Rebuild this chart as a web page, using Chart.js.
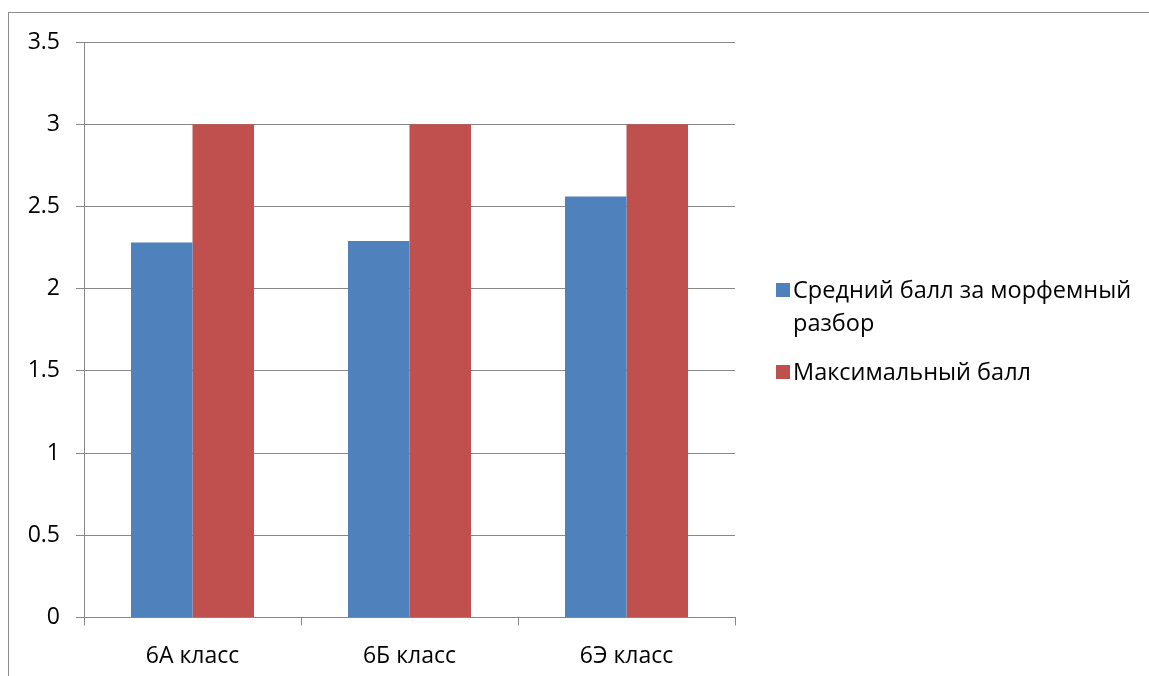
<!DOCTYPE html>
<html>
<head>
<meta charset="utf-8">
<script src="https://cdn.jsdelivr.net/npm/chart.js@4"></script>
<style>
  body { margin: 0; background: #fff; }
  #wrap { position: relative; width: 1149px; height: 676px; overflow: hidden; }
  #frame { position: absolute; left: 8px; top: 12px; width: 1200px; height: 700px;
           border-left: 1px solid #8c8c8c; border-top: 1px solid #8c8c8c; }
  canvas { position: absolute; left: 0; top: 0; }
  #legend { position: absolute; left: 776px; top: 273px; font-family: "Open Sans", sans-serif;
            font-size: 23.5px; line-height: 33px; color: #000; }
  .item { position: relative; padding-left: 17px; margin-bottom: 16px; width: 365px; }
  .box { position: absolute; left: 0; top: 10px; width: 14px; height: 14px; }
</style>
</head>
<body>
<div id="wrap">
  <div id="frame"></div>
  <canvas id="chart" width="1149" height="687"></canvas>
  <div id="legend"></div>
</div>
<script>
// data
const categories = ["6А класс", "6Б класс", "6Э класс"];
const avgScores = [2.28, 2.29, 2.56];
const maxScores = [3, 3, 3];
const seriesNames = ["Средний балл за морфемный разбор", "Максимальный балл"];
const colors = ["#4F81BD", "#C0504D"];

const font = { family: "Open Sans", size: 23 };
const gridColor = "#878787";

const ctx = document.getElementById("chart").getContext("2d");
const chart = new Chart(ctx, {
  type: "bar",
  data: {
    labels: categories,
    datasets: [
      { label: seriesNames[0], data: avgScores, backgroundColor: colors[0] },
      { label: seriesNames[1], data: maxScores, backgroundColor: colors[1] },
    ],
  },
  options: {
    responsive: false,
    animation: false,
    layout: { padding: { top: 42, right: 414, bottom: 0, left: 0 } },
    plugins: { legend: { display: false }, tooltip: { enabled: false } },
    datasets: { bar: { categoryPercentage: 0.567, barPercentage: 1, borderWidth: 0 } },
    scales: {
      x: {
        grid: { offset: true, drawOnChartArea: false, color: gridColor, tickLength: 8 },
        border: { color: gridColor, width: 1 },
        ticks: { color: "#000", font: font, padding: 17 },
      },
      y: {
        min: 0,
        max: 3.5,
        afterFit: (scale) => { scale.width = 84; },
        grid: { color: gridColor, tickLength: 8 },
        border: { color: gridColor, width: 1 },
        ticks: {
          stepSize: 0.5,
          color: "#000",
          font: font,
          padding: 16,
          callback: (value) => String(value),
        },
      },
    },
  },
});

// legend
const legend = document.getElementById("legend");
seriesNames.forEach((name, i) => {
  const item = document.createElement("div");
  item.className = "item";
  item.innerHTML = '<span class="box" style="background:' + colors[i] + '"></span>' + name;
  legend.appendChild(item);
});
</script>
</body>
</html>
